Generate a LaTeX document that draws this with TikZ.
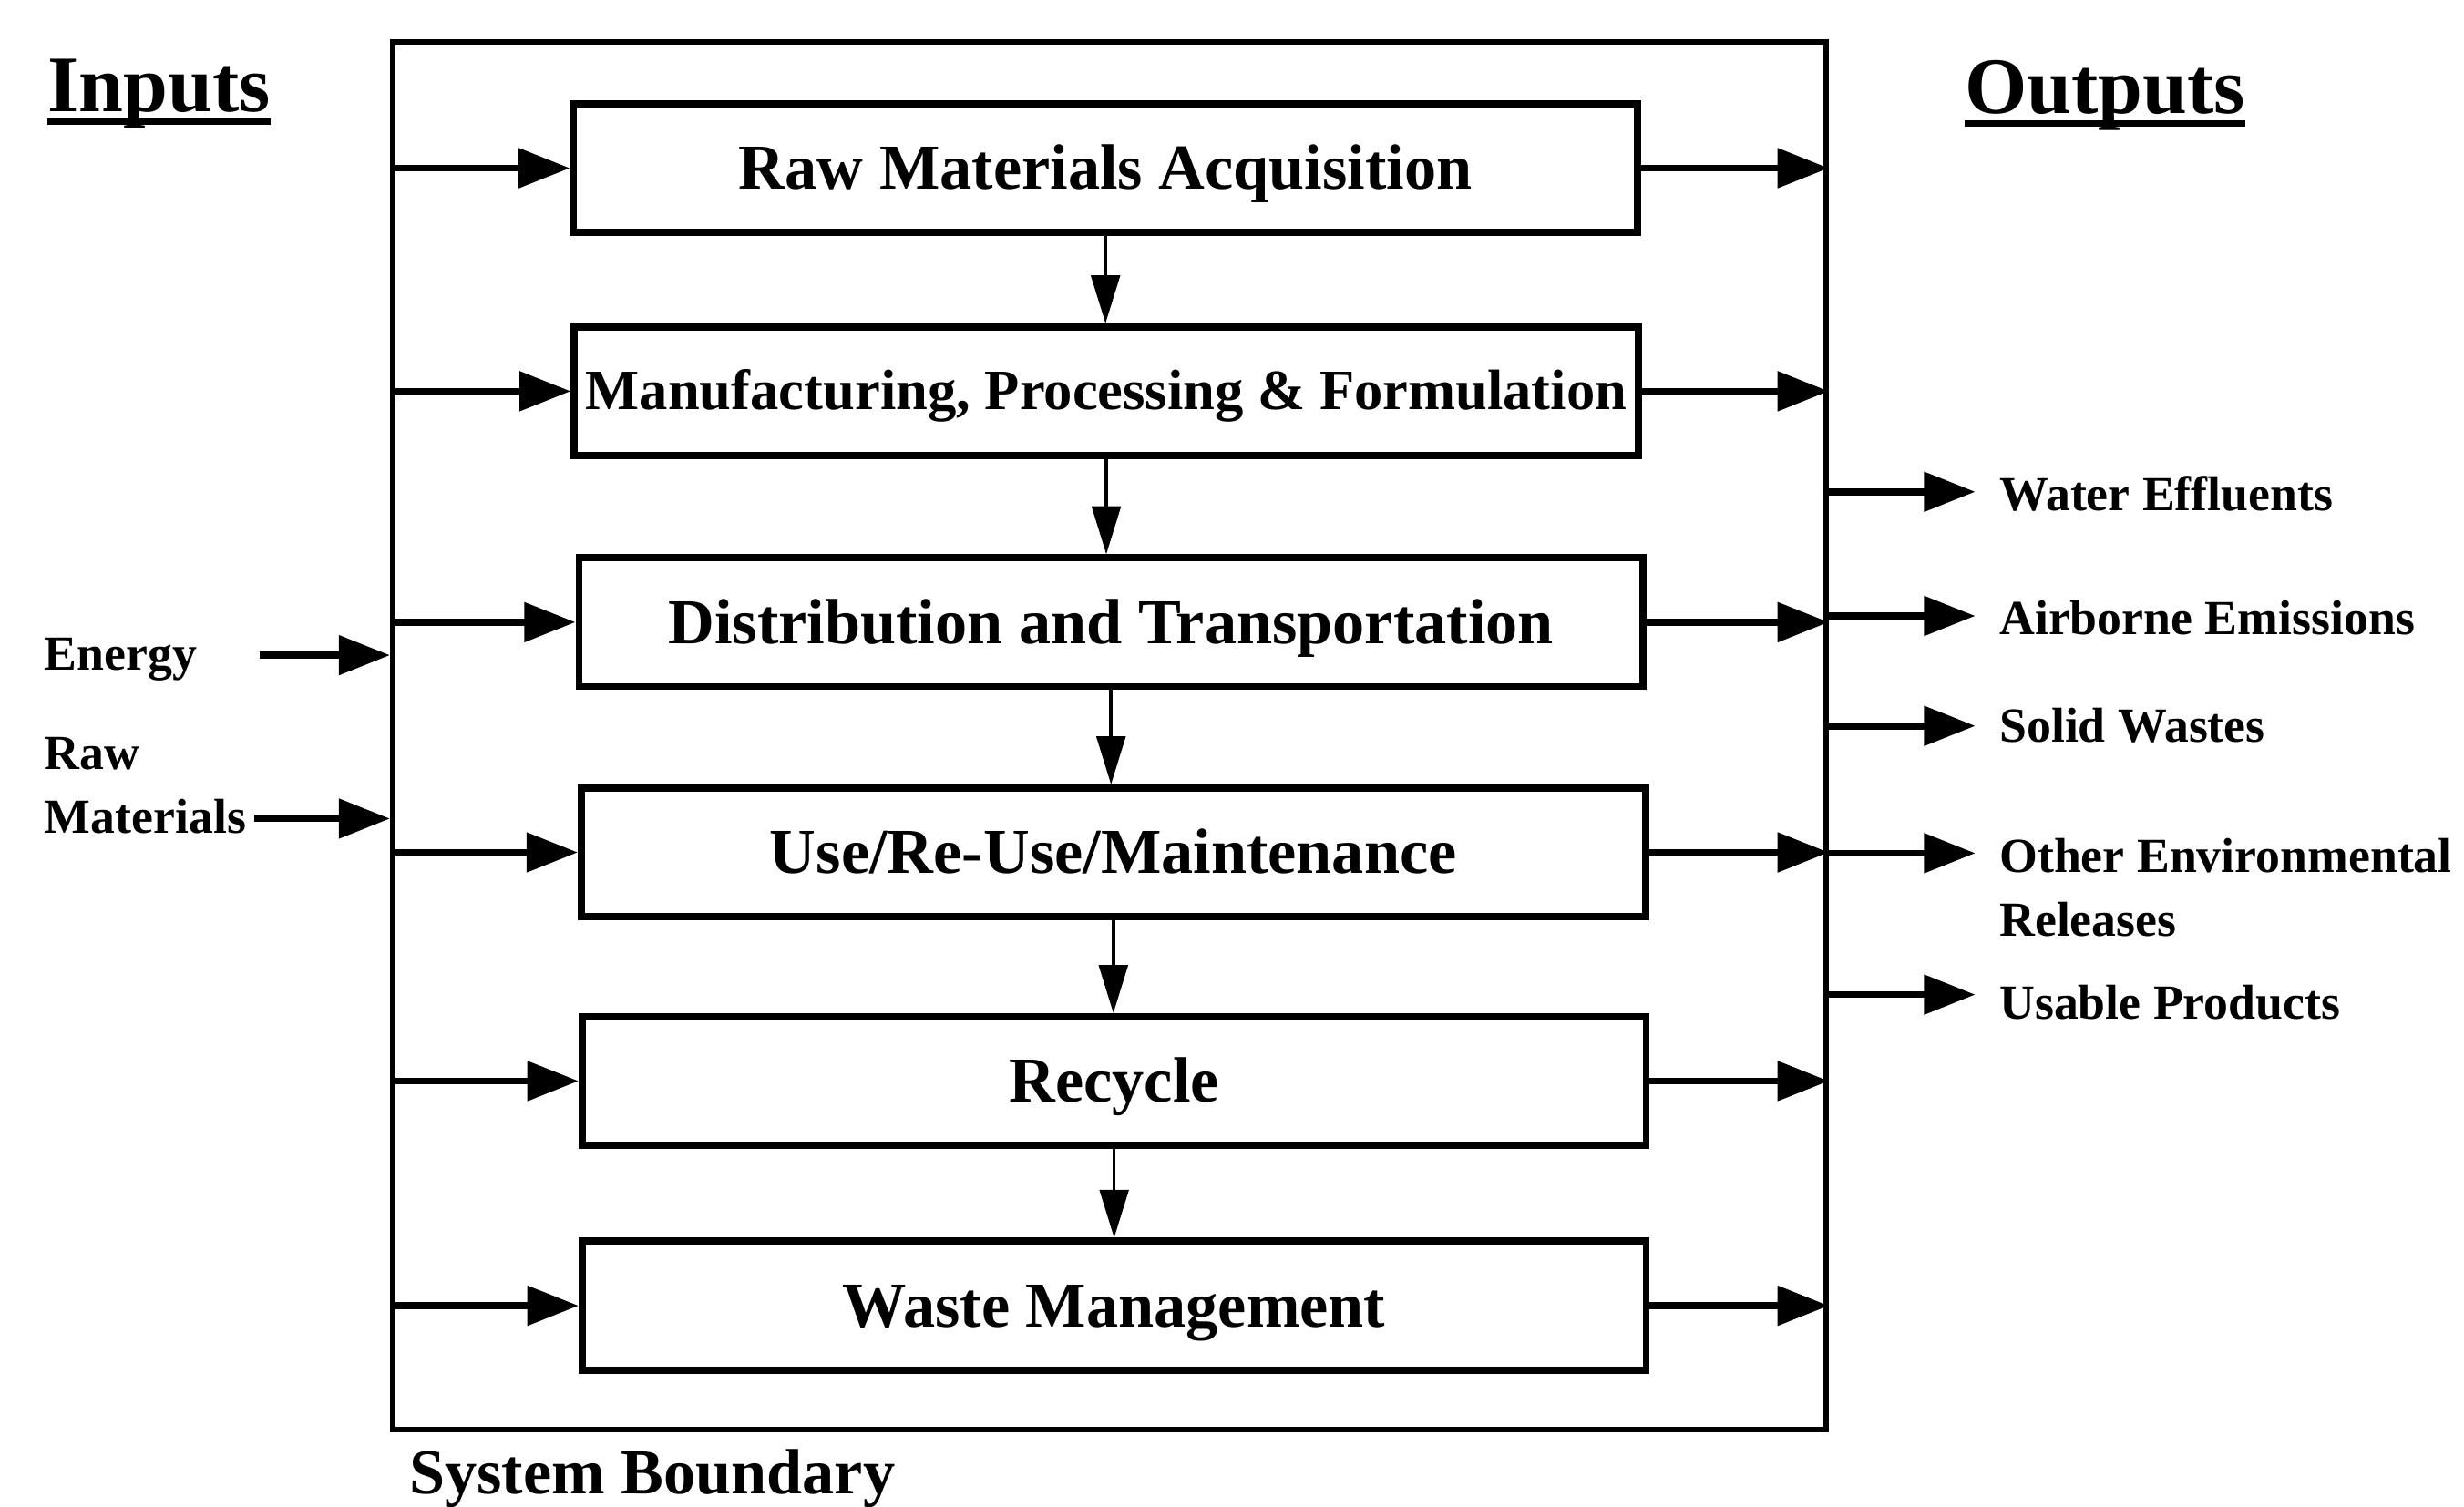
\documentclass[tikz,border=0pt]{standalone}
\usepackage{fontspec}
\setmainfont{Liberation Serif}
\usetikzlibrary{arrows.meta}

% heading text with a close, heavy underline
\newcommand{\headline}[1]{%
  \setbox0\hbox{#1}%
  \rlap{\rule[-0.17em]{\wd0}{0.08em}}\box0}

\begin{document}
\begin{tikzpicture}[x=0.017245cm, y=-0.017245cm,
  stage/.style={draw, line width=2.2pt, rectangle, minimum width=11.675cm,
    minimum height=1.414cm, inner sep=0pt, text height=13.2pt, text depth=0pt,
    font=\fontsize{20}{24}\selectfont\bfseries},
  boundary/.style={draw, line width=1.7pt, rectangle, inner sep=0pt,
    minimum width=15.727cm, minimum height=15.227cm},
  flow/.style={line width=2.2pt, -{Triangle[length=16pt,width=12pt]}},
  down/.style={line width=1pt, -{Triangle[length=15pt,width=9pt]}},
  lbl/.style={inner sep=0pt, font=\fontsize{15.3}{20}\selectfont\bfseries, align=left},
  heading/.style={inner sep=0pt, font=\fontsize{25}{30}\selectfont\bfseries},
]
\useasboundingbox (0,0) rectangle (1568,959);

% system boundary
\node[boundary] (sys) at (706,468.5) {};

% life-cycle stages
\node[stage] (b1) at (703.5,107) {Raw Materials Acquisition};
\node[stage, text height=11.7pt, font=\fontsize{17.8}{22}\selectfont\bfseries]
  (b2) at (704,249) {Manufacturing, Processing \& Formulation};
\node[stage] (b3) at (707,396) {Distribution and Transportation};
\node[stage] (b4) at (708.5,542.5) {Use/Re-Use/Maintenance};
\node[stage] (b5) at (709,688) {Recycle};
\node[stage] (b6) at (709,831) {Waste Management};

% stage-to-stage flow
\foreach \a/\b in {b1/b2,b2/b3,b3/b4,b4/b5,b5/b6}
  \draw[down] (\a.south) -- (\a.south |- \b.north);

% inputs into each stage and outputs from each stage
\foreach \s in {b1,b2,b3,b4,b5,b6}{
  \draw[flow] (sys.west |- \s.west) -- (\s.west);
  \draw[flow] (\s.east) -- (\s.east -| sys.east);
}

% headings
\node[heading, anchor=base west] (inp) at (30,71) {\headline{Inputs}};
\node[heading, anchor=base west] (outp) at (1250,72) {\headline{Outputs}};
\node[inner sep=0pt, anchor=west, font=\fontsize{20}{24}\selectfont\bfseries]
  (sb) at (260,941) {System Boundary};

% external inputs
\node[lbl, anchor=west] (en) at (28,420) {Energy};
\coordinate (enS) at (165,417);
\draw[flow] (enS) -- (enS -| sys.west);
\node[lbl, anchor=west] (rm) at (28,500) {Raw\\Materials};
\coordinate (rmS) at (162,521);
\draw[flow] (rmS) -- (rmS -| sys.west);

% external outputs
\node[lbl, anchor=west] (we) at (1272,314) {Water Effluents};
\coordinate (weT) at (1257,313);
\draw[flow] (weT -| sys.east) -- (weT);
\node[lbl, anchor=west] (ae) at (1272,393) {Airborne Emissions};
\coordinate (aeT) at (1257,392);
\draw[flow] (aeT -| sys.east) -- (aeT);
\node[lbl, anchor=west] (sw) at (1272,462) {Solid Wastes};
\coordinate (swT) at (1257,462);
\draw[flow] (swT -| sys.east) -- (swT);
\node[lbl, anchor=west] (oe) at (1272,565) {Other Environmental\\Releases};
\coordinate (oeT) at (1257,543);
\draw[flow] (oeT -| sys.east) -- (oeT);
\node[lbl, anchor=west] (up) at (1272,638) {Usable Products};
\coordinate (upT) at (1257,633);
\draw[flow] (upT -| sys.east) -- (upT);
\end{tikzpicture}
\end{document}
